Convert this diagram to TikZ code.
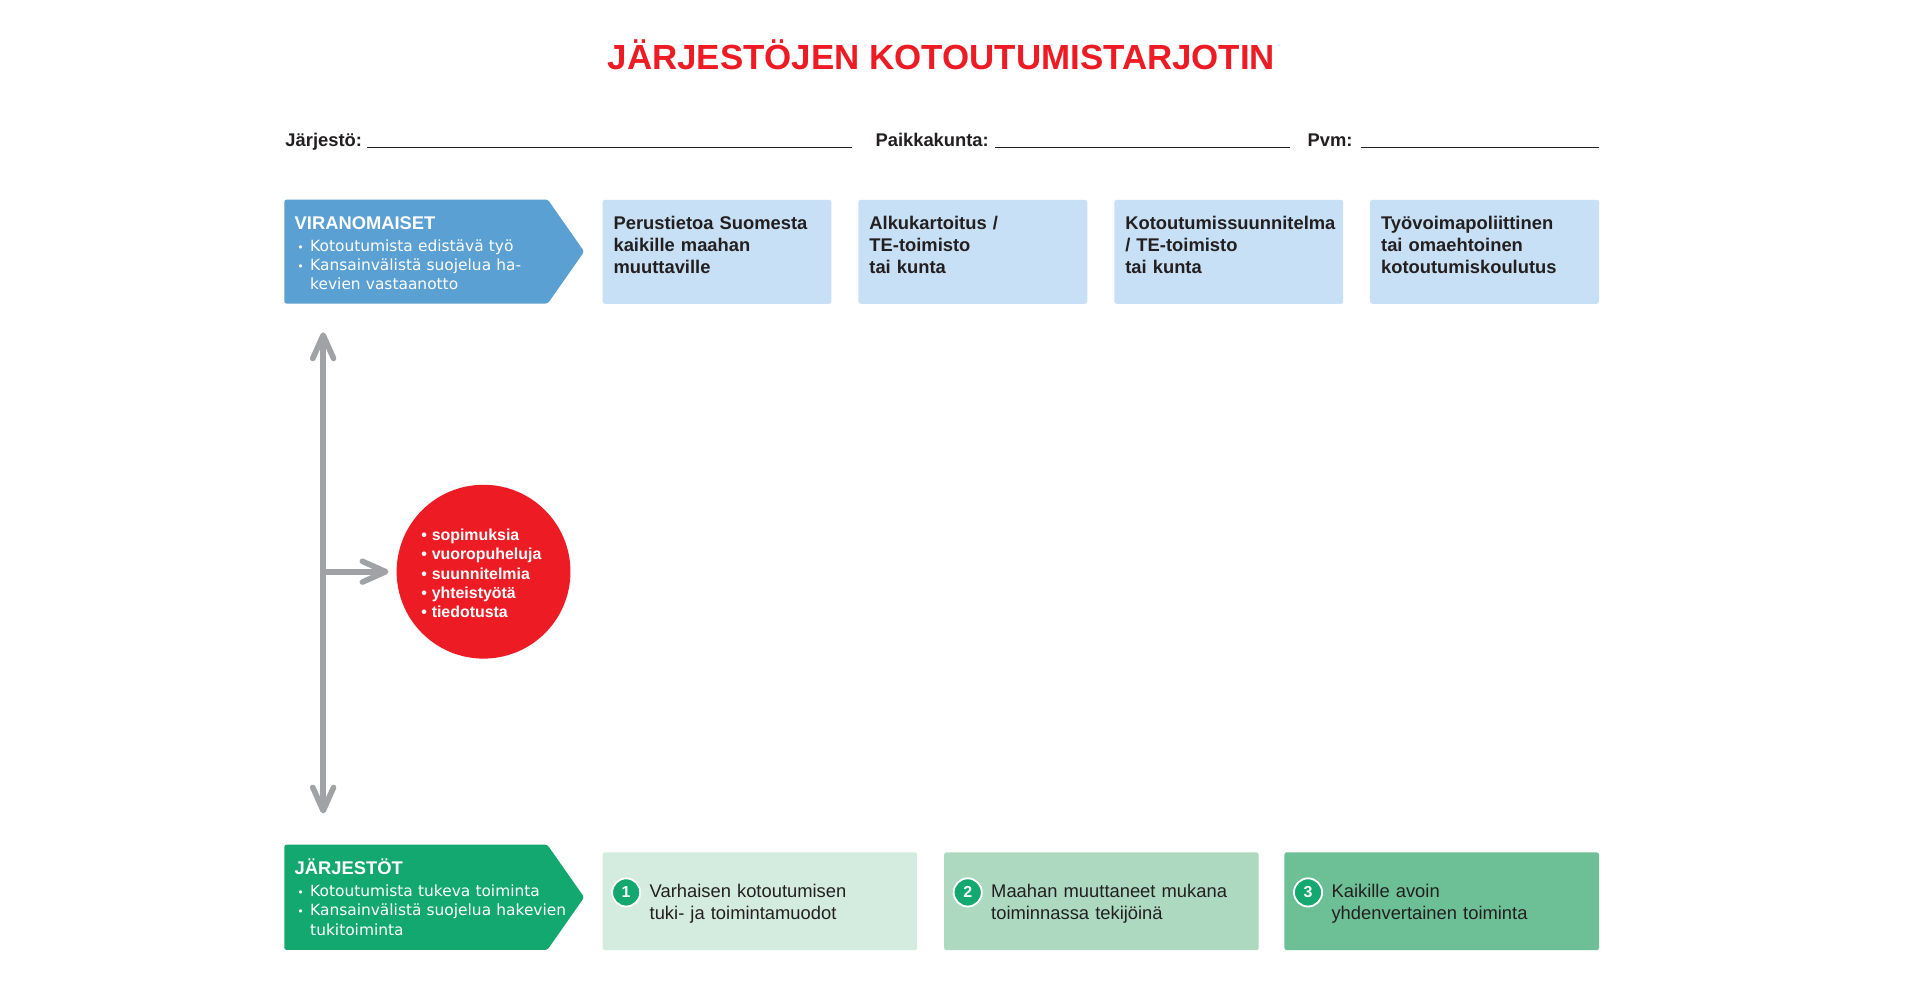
\documentclass[tikz,border=0pt]{standalone}
\usepackage{fontspec}
\setmainfont{Liberation Sans}
\newfontfamily\dinfont{DejaVu Sans}
\usepackage{tikz}
\usetikzlibrary{shapes.symbols, arrows.meta}
\definecolor{viranblue}{HTML}{5AA0D3}
\definecolor{infoblue}{HTML}{C8E0F5}
\definecolor{jarjgreen}{HTML}{12A870}
\definecolor{stepone}{HTML}{D4EBDF}
\definecolor{steptwo}{HTML}{ACD9C0}
\definecolor{stepthree}{HTML}{6DBF95}
\definecolor{tarjred}{HTML}{ED1C24}
\definecolor{arrowgray}{HTML}{A1A2A5}
\definecolor{inkdark}{HTML}{231F20}
\newcommand{\dotitem}{\hspace*{2.2pt}\makebox[10.5pt][l]{\fontsize{9}{9}\selectfont\textbullet}}
\newcommand{\talkitem}{\makebox[8.5pt][l]{\textbullet}}
\tikzstyle{heading} = [anchor = base, inner sep = 0pt, text = tarjred, font = \fontsize{28.5}{30}\selectfont\bfseries]
\tikzstyle{fieldlabel} = [anchor = base west, inner sep = 0pt, text = inkdark, font = \fontsize{15}{18}\selectfont\bfseries]
\tikzstyle{formline} = [draw = inkdark, line width = 1.1pt]
\tikzstyle{actor} = [signal, signal to = east, signal pointer angle = 110, minimum width = 245pt, minimum height = 85pt, rounded corners = 2pt, inner sep = 0pt, anchor = west]
\tikzstyle{actortext} = [anchor = base west, inner sep = 0pt, text width = 240pt, align = left, text = white, font = \dinfont\fontsize{12.6}{15.6}\selectfont]
\tikzstyle{offer} = [rectangle, fill = infoblue, rounded corners = 2pt, minimum width = 187pt, minimum height = 85pt, inner sep = 0pt, anchor = north west]
\tikzstyle{offertext} = [anchor = base west, inner sep = 0pt, text width = 182pt, align = left, text = inkdark, font = \fontsize{15}{18}\selectfont\bfseries]
\tikzstyle{stage} = [rectangle, rounded corners = 2pt, minimum width = 257pt, minimum height = 80pt, inner sep = 0pt, anchor = north west]
\tikzstyle{stagenum} = [circle, fill = jarjgreen, draw = white, line width = 1.5pt, minimum size = 23pt, inner sep = 0pt, text = white, font = \fontsize{13}{13}\selectfont\bfseries]
\tikzstyle{stagetext} = [anchor = base west, inner sep = 0pt, text width = 230pt, align = left, text = inkdark, font = \fontsize{15}{18}\selectfont]
\tikzstyle{talk} = [circle, fill = tarjred, minimum size = 142pt, inner sep = 0pt]
\tikzstyle{talktext} = [anchor = base west, inner sep = 0pt, text width = 115pt, align = left, text = white, font = \fontsize{13}{15.8}\selectfont\bfseries]
\tikzstyle{flow} = [draw = arrowgray, line width = 4.6pt, >= {Straight Barb[length = 19pt, width = 17pt, round]}]
\begin{document}
\begin{tikzpicture}[x = 1pt, y = -1pt]
			\useasboundingbox (0, 0) rectangle (1568.4, 823.4);
			% Place nodes
			\node [heading] (title) at (769, 56.7) {JÄRJESTÖJEN KOTOUTUMISTARJOTIN};
			\node [fieldlabel] (org) at (233, 119.7) {Järjestö:};
			\node [fieldlabel] (place) at (715, 119.7) {Paikkakunta:};
			\node [fieldlabel] (date) at (1068, 119.7) {Pvm:};
			\node [actor, fill = viranblue] (viran) at (232, 205.5) {};
			\node [offer] (perus) at (492, 163) {};
			\node [offer] (alku) at (701, 163) {};
			\node [offer] (suunn) at (910, 163) {};
			\node [offer] (koulutus) at (1119, 163) {};
			\node [actortext] (virantxt) at (240.5, 187.5) {{\rmfamily\bfseries\fontsize{15}{18}\selectfont VIRANOMAISET}\\[2.5pt]
				\dotitem Kotoutumista edistävä työ\\
				\dotitem Kansainvälistä suojelua ha-\\
				\hspace*{12.7pt}kevien vastaanotto};
			\node [offertext] (perustxt) at (501, 187.5) {Perustietoa Suomesta\\kaikille maahan\\muuttaville};
			\node [offertext] (alkutxt) at (710, 187.5) {Alkukartoitus /\\TE-toimisto\\tai kunta};
			\node [offertext] (suunntxt) at (919, 187.5) {Kotoutumissuunnitelma\\/ TE-toimisto\\tai kunta};
			\node [offertext] (koulutustxt) at (1128, 187.5) {Työvoimapoliittinen\\tai omaehtoinen\\kotoutumiskoulutus};
			\node [talk] (talk) at (395, 467) {};
			\node [talktext] (talktxt) at (344, 441.5) {\talkitem sopimuksia\\\talkitem vuoropuheluja\\\talkitem suunnitelmia\\\talkitem yhteistyötä\\\talkitem tiedotusta};
			\node [actor, fill = jarjgreen, minimum height = 86pt] (jarj) at (232, 733) {};
			\node [actortext] (jarjtxt) at (240.5, 714.5) {{\rmfamily\bfseries\fontsize{15}{18}\selectfont JÄRJESTÖT}\\[2.5pt]
				\dotitem Kotoutumista tukeva toiminta\\
				\dotitem Kansainvälistä suojelua hakevien\\
				\hspace*{12.7pt}tukitoiminta};
			\node [stage, fill = stepone] (varh) at (492, 696) {};
			\node [stage, fill = steptwo] (mukana) at (771, 696) {};
			\node [stage, fill = stepthree] (avoin) at (1049, 696) {};
			\node [stagenum] (n1) at (511.5, 729) {1};
			\node [stagenum] (n2) at (790.5, 729) {2};
			\node [stagenum] (n3) at (1068.5, 729) {3};
			\node [stagetext] (varhtxt) at (530.5, 733.5) {Varhaisen kotoutumisen\\tuki- ja toimintamuodot};
			\node [stagetext] (mukanatxt) at (809.5, 733.5) {Maahan muuttaneet mukana\\toiminnassa tekijöinä};
			\node [stagetext] (avointxt) at (1087.5, 733.5) {Kaikille avoin\\yhdenvertainen toiminta};
			\coordinate (up) at (264, 271.5);
			\coordinate (down) at (264, 664.5);
			\coordinate (branch) at (264, 467);
			% Form lines
			\path [formline] (300, 120.7) -- (696, 120.7);
			\path [formline] (813, 120.7) -- (1054, 120.7);
			\path [formline] (1112, 120.7) -- (1306, 120.7);
			% Draw edges
			\path [flow, <->] (up) -- (down);
			\path [flow, ->, shorten >= 6.5pt] (branch) -- (talk);
		\end{tikzpicture}
\end{document}
